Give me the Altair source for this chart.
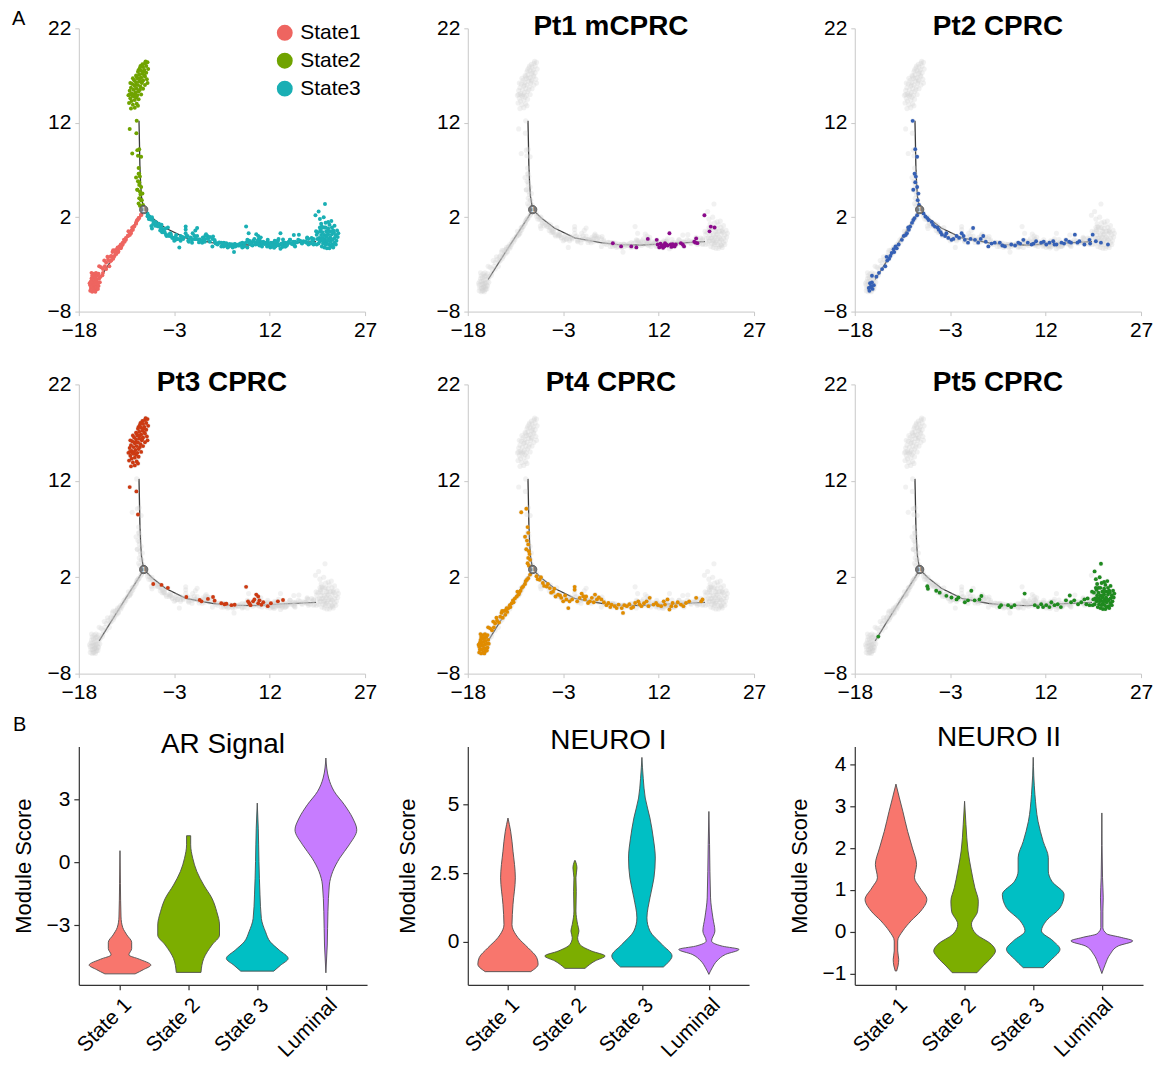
import altair as alt
import pandas as pd

FONT = "Liberation Sans"

# ---------------- Panel A: pseudotime trajectory ----------------
STATES = ["State1", "State2", "State3"]
STATE_COLORS = ["#EE6560", "#70A300", "#1AAFB4"]
PATIENTS = ["Pt1 mCPRC", "Pt2 CPRC", "Pt3 CPRC", "Pt4 CPRC", "Pt5 CPRC"]
PATIENT_COLORS = ["#8B0A8B", "#3560B5", "#CC3A12", "#E08C00", "#1F8A1F"]
X_DOMAIN = [-18, 27]
Y_DOMAIN = [-8, 22]
X_TICKS = [-18, -3, 12, 27]
Y_TICKS = [-8, 2, 12, 22]

# trajectory backbone (component 1 / component 2)
TRAJ_STEM = [[-8.54, 12.2], [-8.47, 10.0], [-8.4, 7.5], [-8.28, 5.5], [-8.15, 4.2], [-7.8, 2.8]]
TRAJ_ARM = [[-7.8, 2.8], [-8.6, 1.9], [-10.0, 0.45], [-11.6, -1.2], [-13.2, -2.9], [-14.8, -4.6]]
TRAJ_CURVE = [[-7.8, 2.8], [-6.5, 1.95], [-4.4, 0.85], [-1.2, -0.2], [2.9, -0.7], [5.6, -0.9],
              [9.2, -0.95], [13.5, -0.8], [19.3, -0.6]]
BRANCH_POINT = [-7.8, 2.8]

# cells, per patient and state
PT1_STATE3 = [
    [4.8, -0.76], [6.1, -1.1], [7.7, -1.1], [8.5, -1.2], [10.3, -0.3], [11.7, -0.4], [11.85, -0.9],
    [12.1, -1.2], [12.3, -0.8], [12.4, -1.1], [12.6, -1.0], [12.7, -1.25], [12.9, -1.1], [13.0, -0.75],
    [13.2, -0.9], [13.4, -1.0], [13.7, 0.3], [13.9, -0.9], [14.0, -1.15], [14.2, -0.85], [14.5, -1.1],
    [14.7, -0.9], [15.5, -0.75], [15.8, -0.9], [16.0, -1.1], [17.6, -0.6], [17.8, -0.7], [17.9, -0.25],
    [18.1, -0.75], [19.2, 2.2], [20.0, 0.5], [20.2, 1.0], [20.8, 0.9]]

PT2_STATE1 = [
    [-15.8, -5.5], [-15.4, -5.3], [-15.6, -5.0], [-15.2, -5.6], [-15.0, -5.2], [-15.7, -5.8], [-15.3, -4.9],
    [-15.5, -5.4], [-15.3, -4.2], [-14.6, -4.3], [-14.2, -3.9], [-13.7, -3.5], [-13.2, -3.2], [-13.0, -2.2],
    [-12.9, -2.6], [-12.6, -2.4], [-12.4, -2.1], [-12.2, -1.8], [-11.9, -1.4], [-11.8, -1.7], [-11.6, -1.1],
    [-11.4, -1.3], [-11.1, -0.9], [-10.6, -0.4], [-10.3, 0.0], [-10.0, 0.1], [-9.8, 0.3], [-9.6, 0.9],
    [-9.5, 0.67], [-9.3, 1.0], [-9.0, 1.4], [-8.8, 1.7], [-8.6, 1.9], [-8.2, 2.2]]
PT2_STATE2 = [
    [-8.9, 12.2], [-8.5, 9.2], [-8.2, 8.4], [-8.6, 6.6], [-8.4, 6.3], [-8.5, 5.7], [-8.2, 5.2],
    [-8.8, 4.9], [-8.0, 4.5], [-8.1, 3.8], [-7.9, 3.3]]
PT2_STATE3 = [
    [-7.2, 2.4], [-6.9, 2.07], [-6.6, 1.9], [-6.4, 1.7], [-5.9, 1.5], [-5.7, 1.2], [-5.4, 1.0], [-5.0, 0.9],
    [-4.8, 0.67], [-4.5, 0.4], [-4.3, 0.15], [-3.8, 0.0], [-3.6, 0.3], [-3.3, -0.2], [-2.8, -0.4],
    [-2.5, -0.3], [-2.0, 0.0], [-1.6, -0.2], [-1.2, 0.3], [-0.9, 0.0], [-0.7, -0.4], [-0.2, -0.7],
    [0.2, -0.3], [0.6, 0.85], [0.9, -0.4], [1.4, -0.7], [1.8, -0.3], [2.2, 0.0], [2.6, -0.6], [3.0, -1.1],
    [3.5, -0.8], [4.0, -0.7], [4.8, -0.7], [5.2, -1.0], [5.6, -1.1], [6.6, -0.9], [7.2, -1.0], [7.7, -0.7],
    [8.0, -0.8], [8.5, -0.4], [9.2, -0.7], [9.8, -0.9], [10.1, -0.8], [10.5, -0.55], [11.3, -0.7],
    [11.7, -0.6], [12.1, -0.9], [12.6, -0.7], [13.2, -0.55], [13.4, -0.9], [13.7, -0.9], [14.5, -0.7],
    [14.9, -0.8], [15.2, -0.4], [15.7, -0.6], [16.0, -0.7], [16.6, 0.15], [17.0, -0.7], [17.3, -0.55],
    [18.1, -0.9], [18.9, -0.4], [19.0, -0.8], [19.4, 0.15], [19.9, -0.55], [20.7, -0.7], [21.8, -0.9]]

PT3_STATE2 = [
    [-7.2, 18.4], [-7.5, 18.5], [-7.6, 18.3], [-8.0, 18.2], [-8.3, 18.0], [-7.4, 18.0], [-7.9, 17.9],
    [-8.4, 17.8], [-7.1, 17.7], [-7.7, 17.6], [-8.6, 17.6], [-8.2, 17.5], [-8.7, 17.4], [-7.8, 17.4],
    [-7.4, 17.3], [-8.0, 17.2], [-8.5, 17.1], [-9.0, 17.0], [-7.7, 17.0], [-7.6, 16.9], [-8.9, 16.9],
    [-8.2, 16.8], [-8.8, 16.7], [-9.5, 16.7], [-8.4, 16.7], [-7.3, 16.6], [-9.3, 16.5], [-7.9, 16.5],
    [-8.5, 16.4], [-8.0, 16.4], [-9.0, 16.3], [-8.1, 16.2], [-9.9, 16.2], [-7.2, 16.2], [-9.6, 16.1],
    [-7.6, 16.0], [-8.7, 16.0], [-9.1, 16.0], [-9.2, 15.9], [-8.3, 15.8], [-9.8, 15.7], [-8.9, 15.6],
    [-7.9, 15.6], [-9.4, 15.5], [-8.4, 15.5], [-10.0, 15.4], [-8.6, 15.3], [-9.1, 15.2], [-9.7, 15.1],
    [-8.2, 15.0], [-9.3, 15.0], [-10.0, 15.0], [-10.2, 14.9], [-8.8, 14.9], [-9.6, 14.9], [-9.4, 14.8],
    [-9.0, 14.7], [-9.9, 14.6], [-8.6, 14.5], [-9.2, 14.4], [-9.7, 14.3], [-10.1, 14.1], [-8.9, 14.0],
    [-9.5, 13.9], [-8.7, 13.8], [-9.2, 13.6], [-9.8, 13.5],
    [-10.0, 11.35], [-8.95, 10.9], [-8.7, 8.5]]
PT3_STATE3 = [
    [-6.3, 1.3], [-5.0, 1.2], [-4.0, 0.9], [-1.1, -0.05], [1.0, -0.36], [1.3, -0.5], [2.3, -0.25],
    [3.1, -0.05], [3.35, -0.43], [4.4, -0.7], [4.9, -0.8], [5.2, -0.75], [6.0, -0.9], [6.5, -0.85],
    [8.3, 1.0], [8.6, -0.5], [8.8, -0.7], [9.0, -0.9], [9.4, -0.5], [9.6, -0.3], [9.9, 0.2], [10.2, 0.0],
    [10.4, -0.4], [10.2, -0.7], [10.7, -0.85], [11.0, -0.6], [11.7, -1.0], [12.2, -0.7], [13.3, -0.5],
    [14.1, -0.36]]

PT4_STATE1 = [
    [-16.2, -5.8], [-15.9, -5.9], [-15.6, -5.8], [-15.3, -5.7], [-16.1, -5.5], [-15.8, -5.5], [-15.5, -5.4],
    [-15.2, -5.4], [-14.9, -5.3], [-16.2, -5.2], [-15.9, -5.1], [-15.6, -5.1], [-15.3, -5.0], [-15.0, -4.9],
    [-16.1, -4.8], [-15.8, -4.8], [-15.5, -4.7], [-15.2, -4.6], [-14.8, -4.5], [-16.0, -4.5], [-15.7, -4.4],
    [-15.4, -4.3], [-15.1, -4.2], [-15.9, -4.2], [-15.6, -4.0], [-15.3, -3.9], [-16.3, -5.0], [-15.0, -5.6],
    [-15.4, -5.9], [-14.7, -4.9], [-16.0, -3.9], [-14.9, -4.0],
    [-14.8, -3.2], [-14.5, -3.3], [-14.2, -3.5], [-14.0, -2.6], [-13.9, -3.2], [-13.7, -2.8], [-13.5, -2.2],
    [-13.4, -2.5], [-13.1, -2.7], [-12.9, -2.1], [-12.7, -1.7], [-12.6, -1.5], [-12.5, -2.2], [-12.3, -1.5],
    [-12.1, -1.9], [-12.0, -1.4], [-11.9, -1.2], [-11.8, -1.6], [-11.6, -1.2], [-11.4, -0.9], [-11.3, -1.1],
    [-11.1, -0.7], [-10.9, -0.4], [-10.8, -0.6], [-10.6, -0.2], [-10.3, 0.0], [-10.2, 0.5], [-10.0, 0.2],
    [-9.9, 0.4], [-9.7, 0.6], [-9.5, 0.9], [-9.3, 1.04], [-9.0, 1.3], [-8.9, 1.6], [-8.7, 1.74],
    [-8.5, 1.9], [-8.2, 2.27]]
PT4_STATE2 = [
    [-9.6, 8.74], [-8.8, 9.1], [-8.6, 7.2], [-8.5, 6.6], [-9.0, 6.2], [-8.7, 5.8], [-8.5, 5.4],
    [-8.8, 4.9], [-8.4, 4.7], [-8.3, 4.4], [-8.5, 4.0], [-8.2, 3.8], [-8.6, 3.45], [-8.4, 3.2]]
PT4_STATE3 = [
    [-7.2, 2.1], [-7.0, 1.8], [-6.7, 1.74], [-6.5, 2.0], [-6.2, 1.4], [-6.0, 1.1], [-5.6, 1.04],
    [-5.4, 1.3], [-5.1, 0.87], [-4.9, 0.4], [-4.6, 0.5], [-4.4, 0.8], [-4.2, 0.0], [-3.8, 0.2],
    [-3.5, 0.1], [-3.3, -0.14], [-3.0, -0.5], [-2.7, 0.1], [-2.5, -0.3], [-2.2, -1.2], [-2.0, -0.5],
    [-1.6, -0.3], [-1.2, 1.0], [-1.2, 0.7], [-0.8, -0.5], [-0.4, -0.14], [-0.1, 0.3], [0.16, 0.03],
    [0.4, -0.3], [0.6, 0.0], [0.9, -0.67], [1.2, -0.5], [1.5, -0.14], [1.8, -0.6], [2.0, 0.2],
    [2.3, -0.3], [2.6, -0.1], [3.0, -0.3], [3.4, -0.6], [3.8, -0.9], [4.1, -0.67], [4.4, -1.1],
    [4.6, -0.84], [5.1, -1.0], [5.4, -1.2], [5.7, -0.84], [6.2, -1.2], [6.4, -1.7], [6.6, -0.9],
    [7.0, -1.0], [7.4, -0.8], [7.7, -1.2], [8.0, -1.1], [8.3, -0.67], [8.8, -0.5], [9.0, -0.8],
    [9.3, -1.0], [9.7, -0.7], [10.1, -0.5], [10.4, -1.0], [10.6, -0.14], [11.2, -0.84], [11.6, -0.67],
    [11.9, -0.9], [12.4, -1.0], [12.8, -0.5], [13.0, -0.84], [13.4, -0.3], [13.7, -1.35], [14.0, -1.0],
    [14.2, -0.67], [14.7, -1.0], [15.0, -0.6], [15.5, -0.84], [15.9, -1.0], [16.3, -0.67], [16.8, -0.5],
    [17.9, -0.14], [18.7, -0.5], [18.9, -0.3]]

PT5_STATE1 = [[-14.3, -4.16]]
PT5_STATE3 = [
    [-6.6, 1.07], [-6.5, 0.8], [-5.2, 0.6], [-4.65, 0.4], [-3.6, 0.07], [-2.8, -0.1], [-2.0, -0.3],
    [-1.7, -0.1], [-0.7, -0.6], [-0.2, -0.4], [0.32, 0.6], [0.84, -0.4], [1.6, -0.3], [1.9, 0.05],
    [4.76, -1.1], [5.0, -0.9], [6.1, -0.9], [6.6, -1.1], [7.1, -0.9], [8.7, 0.3], [10.3, -0.9],
    [10.8, -1.1], [11.3, -0.8], [11.6, -1.1], [12.1, -0.9], [12.6, -1.1], [12.9, -0.6], [13.4, -0.9],
    [13.9, -0.8], [14.4, -1.1], [15.2, -0.4], [15.8, 0.1], [16.0, -0.6], [16.5, -0.4], [17.1, -0.8],
    [17.6, -0.6], [18.1, -0.3], [18.4, -0.8], [18.6, -0.2], [18.9, -0.9],
    [20.7, 3.4], [19.7, 2.6], [19.9, 1.8], [20.5, 2.0], [21.2, 1.5], [22.2, 1.1], [22.0, 0.6], [19.3, 0.5],
    [19.6, 0.4], [19.8, -0.2], [19.7, -0.8], [20.0, 0.7], [20.1, 0.1], [20.0, -0.5], [20.2, -1.1],
    [20.3, 0.4], [20.4, -0.2], [20.4, -0.8], [20.6, 0.9], [20.6, 0.1], [20.7, -0.4], [20.6, -1.2],
    [20.9, 0.5], [20.9, -0.1], [21.0, -0.7], [21.0, -1.3], [21.2, 0.8], [21.2, 0.2], [21.3, -0.3],
    [21.3, -0.9], [21.5, 0.5], [21.5, -0.1], [21.6, -0.6], [21.6, -1.1], [21.8, 0.9], [21.8, 0.2],
    [21.9, -0.4], [21.9, -1.0], [22.1, 0.4], [22.2, -0.2], [22.2, -0.7], [22.4, 0.1], [22.5, -0.5],
    [22.6, 0.6], [22.7, -0.1], [20.1, 1.3], [20.8, 1.4], [21.4, 1.2], [21.7, 1.6], [19.5, -0.3],
    [19.9, 0.9], [20.5, -0.5], [21.1, -0.5], [21.7, -0.3], [20.3, 0.9], [21.1, 0.5], [21.9, 0.5],
    [20.8, -0.9], [21.4, -1.3], [22.0, -1.2], [19.4, -0.9], [20.2, -0.2], [21.0, 0.1], [22.4, -0.9],
    [22.8, 0.3]]

CELL_GROUPS = [
    ("Pt1 mCPRC", "State3", PT1_STATE3),
    ("Pt2 CPRC", "State1", PT2_STATE1), ("Pt2 CPRC", "State2", PT2_STATE2), ("Pt2 CPRC", "State3", PT2_STATE3),
    ("Pt3 CPRC", "State2", PT3_STATE2), ("Pt3 CPRC", "State3", PT3_STATE3),
    ("Pt4 CPRC", "State1", PT4_STATE1), ("Pt4 CPRC", "State2", PT4_STATE2), ("Pt4 CPRC", "State3", PT4_STATE3),
    ("Pt5 CPRC", "State1", PT5_STATE1), ("Pt5 CPRC", "State3", PT5_STATE3),
]

# ---------------- Panel B: module-score violins ----------------
VIOLIN_CATS = ["State 1", "State 2", "State 3", "Luminal"]
VIOLIN_COLORS = ["#F8766D", "#7CAE00", "#00BFC4", "#C77CFF"]
# profiles: [module score, half width] from top to bottom
AR_S1 = [[0.55, 0.0], [-1.0, 0.006], [-2.6, 0.015], [-3.1, 0.04], [-3.45, 0.1], [-3.8, 0.17], [-4.1, 0.17],
         [-4.4, 0.13], [-4.6, 0.28], [-4.88, 0.45], [-5.1, 0.34], [-5.3, 0.22]]
AR_S2 = [[1.26, 0.03], [0.83, 0.03], [0.19, 0.06], [-0.44, 0.12], [-1.08, 0.22], [-1.71, 0.34],
         [-2.35, 0.41], [-2.98, 0.45], [-3.46, 0.45], [-3.93, 0.34], [-4.57, 0.22], [-5.23, 0.18]]
AR_S3 = [[2.81, 0.0], [1.62, 0.015], [0.03, 0.025], [-1.55, 0.04], [-2.67, 0.06], [-3.3, 0.12],
         [-3.78, 0.19], [-4.17, 0.32], [-4.57, 0.45], [-4.89, 0.34], [-5.17, 0.24]]
AR_LUM = [[4.95, 0.0], [4.0, 0.04], [3.37, 0.12], [2.73, 0.27], [2.1, 0.39], [1.54, 0.45], [0.83, 0.34],
          [0.19, 0.2], [-0.44, 0.1], [-1.08, 0.05], [-2.35, 0.03], [-3.93, 0.02], [-5.25, 0.0]]

N1_S1 = [[4.51, 0.0], [4.03, 0.04], [3.3, 0.075], [2.33, 0.11], [1.36, 0.075], [0.63, 0.06], [0.15, 0.15],
         [-0.22, 0.3], [-0.58, 0.43], [-0.82, 0.45], [-1.09, 0.34]]
N1_S2 = [[2.96, 0.005], [2.69, 0.03], [2.33, 0.015], [1.84, 0.02], [1.12, 0.015], [0.63, 0.04], [0.39, 0.06],
         [0.15, 0.04], [-0.1, 0.075], [-0.34, 0.25], [-0.52, 0.45], [-0.7, 0.3], [-0.97, 0.15]]
N1_S3 = [[6.72, 0.0], [5.96, 0.02], [5.24, 0.05], [4.51, 0.12], [3.78, 0.17], [3.05, 0.2], [2.33, 0.18],
         [1.6, 0.12], [0.87, 0.075], [0.39, 0.12], [-0.1, 0.3], [-0.52, 0.45], [-0.76, 0.39], [-0.92, 0.32]]
N1_LUM = [[4.75, 0.0], [3.54, 0.01], [1.6, 0.025], [0.87, 0.06], [0.39, 0.09], [0.03, 0.04], [-0.16, 0.2],
          [-0.28, 0.45], [-0.46, 0.25], [-0.7, 0.12], [-0.95, 0.05], [-1.19, 0.0]]

N2_S1 = [[3.53, 0.0], [3.2, 0.05], [2.88, 0.1], [2.4, 0.17], [2.0, 0.24], [1.61, 0.3], [1.29, 0.27],
         [1.05, 0.35], [0.77, 0.45], [0.49, 0.36], [0.26, 0.22], [0.02, 0.1], [-0.22, 0.025], [-0.46, 0.025],
         [-0.66, 0.04], [-0.82, 0.03], [-0.94, 0.01]]
N2_S2 = [[3.12, 0.0], [2.56, 0.02], [1.93, 0.05], [1.45, 0.1], [1.05, 0.15], [0.73, 0.2], [0.49, 0.19],
         [0.18, 0.1], [-0.06, 0.17], [-0.3, 0.39], [-0.46, 0.45], [-0.62, 0.39], [-0.82, 0.27], [-0.98, 0.18]]
N2_S3 = [[4.17, 0.0], [3.28, 0.025], [2.64, 0.07], [2.16, 0.145], [1.77, 0.22], [1.45, 0.22], [1.21, 0.27],
         [0.89, 0.45], [0.57, 0.39], [0.26, 0.19], [0.02, 0.12], [-0.22, 0.29], [-0.42, 0.39], [-0.66, 0.27],
         [-0.86, 0.145]]
N2_LUM = [[2.84, 0.0], [1.29, 0.01], [0.81, 0.02], [0.49, 0.015], [0.1, 0.015], [-0.05, 0.07], [-0.14, 0.29],
          [-0.22, 0.45], [-0.34, 0.24], [-0.54, 0.12], [-0.78, 0.05], [-1.0, 0.0]]

# ---------------- build tables ----------------
cells = pd.DataFrame([{"patient": p, "state": s, "x": x, "y": y}
                      for p, s, pts in CELL_GROUPS for x, y in pts])
traj = pd.DataFrame([{"branch": b, "k": i, "x": x, "y": y}
                     for b, pts in [("stem", TRAJ_STEM), ("arm", TRAJ_ARM), ("curve", TRAJ_CURVE)]
                     for i, (x, y) in enumerate(pts)])
node = pd.DataFrame({"x": [BRANCH_POINT[0]], "y": [BRANCH_POINT[1]], "t": ["1"]})

PW = 287
VH = 239
TICK_FS = 21
NUM_EXPR = "replace(toString(datum.value), '-', '\u2212')"


def xy_enc():
    ax = dict(title=None, grid=False, domainColor="#C8C8C8", tickColor="#C8C8C8", tickSize=4,
              labelFontSize=TICK_FS, labelFont=FONT, labelColor="#000000", labelPadding=4,
              labelFlush=False, labelOverlap=False, labelExpr=NUM_EXPR)
    x = alt.X("x:Q", scale=alt.Scale(domain=X_DOMAIN, nice=False, zero=False),
              axis=alt.Axis(values=X_TICKS, **ax))
    y = alt.Y("y:Q", scale=alt.Scale(domain=Y_DOMAIN, nice=False, zero=False),
              axis=alt.Axis(values=Y_TICKS, **ax))
    return x, y


def text_layer(txt, x, y, size, weight="normal", align="center"):
    return alt.Chart(pd.DataFrame({"t": [txt]})).mark_text(
        fontSize=size, fontWeight=weight, font=FONT, color="#000000", align=align,
        baseline="alphabetic").encode(text="t:N", x=alt.value(x), y=alt.value(y))


def traj_panel(height, title=None, patient=None, color=None, tag=None):
    x, y = xy_enc()
    layers = [alt.Chart(traj).mark_line(color="#3A3A3A", strokeWidth=1.3).encode(
        x=x, y=y, detail="branch:N", order="k:Q")]
    if patient is None:
        layers.append(alt.Chart(cells).mark_circle(size=16, opacity=1).encode(
            x=x, y=y,
            color=alt.Color("state:N", scale=alt.Scale(domain=STATES, range=STATE_COLORS),
                            legend=alt.Legend(title=None, orient="none", legendX=196, legendY=-6,
                                              symbolType="circle", symbolSize=254, symbolOpacity=1,
                                              symbolStrokeWidth=0, labelFontSize=TICK_FS, labelFont=FONT,
                                              labelColor="#000000", rowPadding=6, labelOffset=5,
                                              padding=0))))
    else:
        layers.append(alt.Chart(cells).mark_circle(size=26, opacity=0.3, color="#CFCFCF").encode(x=x, y=y))
        layers.append(alt.Chart(cells).transform_filter(alt.datum.patient == patient).mark_circle(
            size=15, opacity=1, color=color).encode(x=x, y=y))
    layers.append(alt.Chart(node).mark_circle(size=70, opacity=1, color="#7B7B7B", stroke="#4D4D4D",
                                              strokeWidth=0.8).encode(x=x, y=y))
    layers.append(alt.Chart(node).mark_text(fontSize=7, color="#FFFFFF", font=FONT).encode(
        x=x, y=y, text="t:N"))
    if title:
        layers.append(text_layer(title, PW / 2, 7, 28, "bold"))
    if tag:
        layers.append(text_layer(tag, -67, -3, 20, align="left"))
    return alt.layer(*layers).properties(width=PW, height=height)


def violin_panel(title, profiles, y_domain, y_ticks, width, title_dy, tag=None):
    rows = []
    for i, (cat, prof) in enumerate(zip(VIOLIN_CATS, profiles)):
        for yv, hw in prof:
            rows.append({"cat": cat, "y": yv, "lo": i + 1 - hw, "hi": i + 1 + hw})
    df = pd.DataFrame(rows)
    ax = dict(grid=False, domainColor="#333333", tickColor="#333333", tickSize=5, domainWidth=1.2,
              tickWidth=1.2, labelFontSize=TICK_FS, labelFont=FONT, labelColor="#000000")
    cat_expr = "[" + ",".join("'%s'" % c for c in VIOLIN_CATS) + "][datum.value - 1]"
    area = alt.Chart(df).mark_area(orient="horizontal", interpolate="monotone", stroke="#4D4D4D",
                                   strokeWidth=0.9, opacity=1).encode(
        y=alt.Y("y:Q", scale=alt.Scale(domain=y_domain, nice=False, zero=False),
                axis=alt.Axis(values=y_ticks, title="Module Score", titleFontSize=22, titleFont=FONT,
                              titleFontWeight="normal", titleColor="#000000", titlePadding=10,
                              labelPadding=4, labelExpr=NUM_EXPR, **ax)),
        x=alt.X("lo:Q", stack=None, scale=alt.Scale(domain=[0.4, 4.6], nice=False, zero=False),
                axis=alt.Axis(values=[1, 2, 3, 4], title=None, labelAngle=-45, labelAlign="right",
                              labelBaseline="top", labelPadding=4, labelExpr=cat_expr, **ax)),
        x2="hi:Q",
        color=alt.Color("cat:N", scale=alt.Scale(domain=VIOLIN_CATS, range=VIOLIN_COLORS), legend=None),
    )
    layers = [area, text_layer(title, width / 2, title_dy, 28)]
    if tag:
        layers.append(text_layer(tag, -66, -15, 20, align="left"))
    return alt.layer(*layers).properties(width=width, height=VH)


H1, H2 = 284, 290
p1 = traj_panel(H1, tag="A")
p2 = traj_panel(H1, PATIENTS[0], PATIENTS[0], PATIENT_COLORS[0])
p3 = traj_panel(H1, PATIENTS[1], PATIENTS[1], PATIENT_COLORS[1])
p4 = traj_panel(H2, PATIENTS[2], PATIENTS[2], PATIENT_COLORS[2])
p5 = traj_panel(H2, PATIENTS[3], PATIENTS[3], PATIENT_COLORS[3])
p6 = traj_panel(H2, PATIENTS[4], PATIENTS[4], PATIENT_COLORS[4])

v1 = violin_panel("AR Signal", [AR_S1, AR_S2, AR_S3, AR_LUM], [-5.82, 5.5], [-3, 0, 3], 289, 7, tag="B")
v2 = violin_panel("NEURO I", [N1_S1, N1_S2, N1_S3, N1_LUM], [-1.57, 7.12], [0, 2.5, 5], 282, 3)
v3 = violin_panel("NEURO II", [N2_S1, N2_S2, N2_S3, N2_LUM], [-1.27, 4.43], [-1, 0, 1, 2, 3, 4], 289, 0)

chart = alt.concat(p1, p2, p3, p4, p5, p6, v1, v2, v3, columns=3,
                   spacing={"row": 73, "column": 101}, bounds="flush", align="each").resolve_scale(
    x="independent", y="independent", color="independent"
).properties(
    padding={"left": 4, "top": 0, "right": 0, "bottom": 0}, background="#FFFFFF"
).configure_view(stroke=None)

chart.save("out.html", embed_options={"renderer": "svg", "actions": False})
